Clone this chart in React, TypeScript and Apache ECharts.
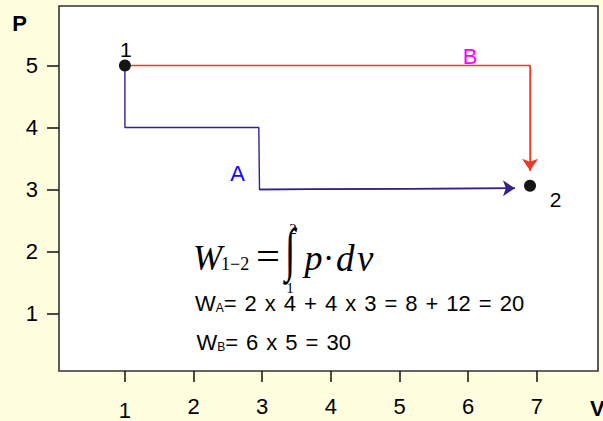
import React, { useEffect, useRef } from "react";
import * as echarts from "echarts";

// ---- data ----
const xTicks = [1, 2, 3, 4, 5, 6, 7];
const yTicks = [1, 2, 3, 4, 5];
const xRange = [0.04, 7.89];
const yRange = [0.07, 5.96];
const stateNames = ["1", "2"];
const statePoints = [
  [1, 5],
  [6.9, 3.06],
];
const pathA = [
  [1, 5],
  [1, 4],
  [2.95, 4],
  [2.96, 3],
  [6.68, 3.02],
];
const pathB = [
  [1, 5],
  [6.9, 5],
  [6.9, 3.3],
];
const pathNames = ["A", "B"];
const workA = ["2", "x", "4", "+", "4", "x", "3", "=", "8", "+", "12", "=", "20"];
const workB = ["6", "x", "5", "=", "30"];
const axisNames = ["V", "P"];

const SANS = "'Liberation Sans', Arial, Helvetica, sans-serif";
const SERIF = "'Liberation Serif', 'Times New Roman', serif";
const A_COLOR = "#34208a";
const B_COLOR = "#e63a2a";

const workRich = {
  w: { fontSize: 22, fontFamily: SANS, color: "#000" },
  s: { fontSize: 12, fontFamily: SANS, color: "#000", verticalAlign: "bottom" },
  t: { fontSize: 22, fontFamily: SANS, color: "#000" },
  g: { fontSize: 22, fontFamily: SANS, width: 8 },
};
const workText = (sub: string, tokens: string[]) =>
  `{w|W}{s|${sub}}{t|=}{g| }` + tokens.map((t) => `{t|${t}}`).join("{g| }");

function txt(x: number, y: number, text: string, font: string, fill: string, align = "left", extra: any = {}) {
  return {
    type: "text",
    x,
    y,
    silent: true,
    z: 100,
    ...extra,
    style: {
      text,
      font,
      fill,
      align,
      textAlign: align,
      verticalAlign: "middle",
      textVerticalAlign: "middle",
    },
  };
}

export default function App() {
  const ref = useRef<HTMLDivElement>(null);
  useEffect(() => {
    if (!ref.current) return;
    const chart = echarts.init(ref.current, undefined, { renderer: "svg" });
    const option: any = {
      animation: false,
      backgroundColor: "#ffffe0",
      grid: {
        left: 59,
        top: 6,
        width: 539,
        height: 367,
        show: true,
        backgroundColor: "#ffffff",
        borderColor: "#333333",
        borderWidth: 1.6,
      },
      xAxis: {
        type: "value",
        min: xRange[0],
        max: xRange[1],
        axisLine: { show: false },
        splitLine: { show: false },
        axisTick: {
          show: true,
          customValues: xTicks,
          length: 11,
          lineStyle: { color: "#111", width: 1.5 },
        },
        axisLabel: {
          customValues: xTicks,
          margin: 24,
          fontSize: 22,
          fontFamily: SANS,
          color: "#000",
          formatter: (v: number) => (v === 1 ? `{low|${v}}` : `{n|${v}}`),
          rich: {
            low: { fontSize: 22, fontFamily: SANS, color: "#000", padding: [4, 0, 0, 0] },
            n: { fontSize: 22, fontFamily: SANS, color: "#000" },
          },
        },
      },
      yAxis: {
        type: "value",
        min: yRange[0],
        max: yRange[1],
        axisLine: { show: false },
        splitLine: { show: false },
        axisTick: {
          show: true,
          customValues: yTicks,
          length: 12,
          lineStyle: { color: "#111", width: 1.5 },
        },
        axisLabel: {
          customValues: yTicks,
          margin: 21,
          fontSize: 22,
          fontFamily: SANS,
          color: "#000",
          padding: [4, 0, 0, 0],
        },
      },
      series: [
        {
          type: "line",
          name: pathNames[0],
          data: pathA,
          symbol: "none",
          lineStyle: { color: A_COLOR, width: 1.4 },
          silent: true,
          z: 2,
        },
        {
          type: "line",
          name: pathNames[1],
          data: pathB,
          symbol: "none",
          lineStyle: { color: B_COLOR, width: 1.3 },
          silent: true,
          z: 2,
        },
        {
          type: "lines",
          coordinateSystem: "cartesian2d",
          symbol: ["none", "arrow"],
          symbolSize: 12,
          silent: true,
          z: 3,
          lineStyle: { width: 1.4, opacity: 1 },
          data: [
            { coords: pathA.slice(-2), lineStyle: { color: A_COLOR } },
            { coords: pathB.slice(-2), lineStyle: { color: B_COLOR } },
          ],
        },
        {
          type: "scatter",
          symbolSize: 12,
          itemStyle: { color: "#151515", opacity: 1 },
          silent: true,
          z: 5,
          data: statePoints.map((p, i) => ({
            value: p,
            label: {
              show: true,
              formatter: stateNames[i],
              position: "inside",
              offset: i === 0 ? [1, -15.5] : [25.5, 13.5],
              fontSize: 21,
              fontFamily: SANS,
              color: "#000",
            },
          })),
        },
      ],
      graphic: [
        txt(19.7, 23, axisNames[1], `bold 22px ${SANS}`, "#000", "center"),
        txt(590, 408, axisNames[0], `bold 22px ${SANS}`, "#000", "left"),
        txt(237.5, 173, pathNames[0], `22px ${SANS}`, "#0a0aff", "center"),
        txt(470, 56, pathNames[1], `22px ${SANS}`, "#ff00ff", "center"),
        // equation W1-2 = ∫ p·dv
        txt(193, 258.2, "W", `italic 35px ${SERIF}`, "#000"),
        txt(221, 263.9, "1\u22122", `18px ${SERIF}`, "#000"),
        txt(256, 256.5, "=", `37px ${SERIF}`, "#000", "left", { scaleX: 1.15 }),
        txt(290, 249, "\u222B", `44px ${SERIF}`, "#000", "center", { scaleY: 1.33, scaleX: 0.85 }),
        txt(293, 229, "2", `15px ${SERIF}`, "#000", "center"),
        txt(290, 288, "1", `15px ${SERIF}`, "#000", "center"),
        txt(304.5, 258.2, "p", `italic 36px ${SERIF}`, "#000"),
        txt(328.5, 258.2, "\u00B7", `35px ${SERIF}`, "#000", "center"),
        txt(336, 258.2, "d", `italic 37px ${SERIF}`, "#000"),
        txt(357, 258.2, "v", `italic 37px ${SERIF}`, "#000"),
        {
          type: "text",
          x: 195,
          y: 303.3,
          silent: true,
          z: 100,
          style: {
            text: workText("A", workA),
            rich: workRich,
            font: `22px ${SANS}`,
            fill: "#000",
            align: "left",
            textAlign: "left",
            verticalAlign: "middle",
            textVerticalAlign: "middle",
          },
        },
        {
          type: "text",
          x: 196.5,
          y: 342,
          silent: true,
          z: 100,
          style: {
            text: workText("B", workB),
            rich: workRich,
            font: `22px ${SANS}`,
            fill: "#000",
            align: "left",
            textAlign: "left",
            verticalAlign: "middle",
            textVerticalAlign: "middle",
          },
        },
      ],
    };
    chart.setOption(option);
    return () => chart.dispose();
  }, []);
  return (
    <div
      ref={ref}
      style={{ position: "fixed", left: 0, top: 0, width: 603, height: 421 }}
    />
  );
}
